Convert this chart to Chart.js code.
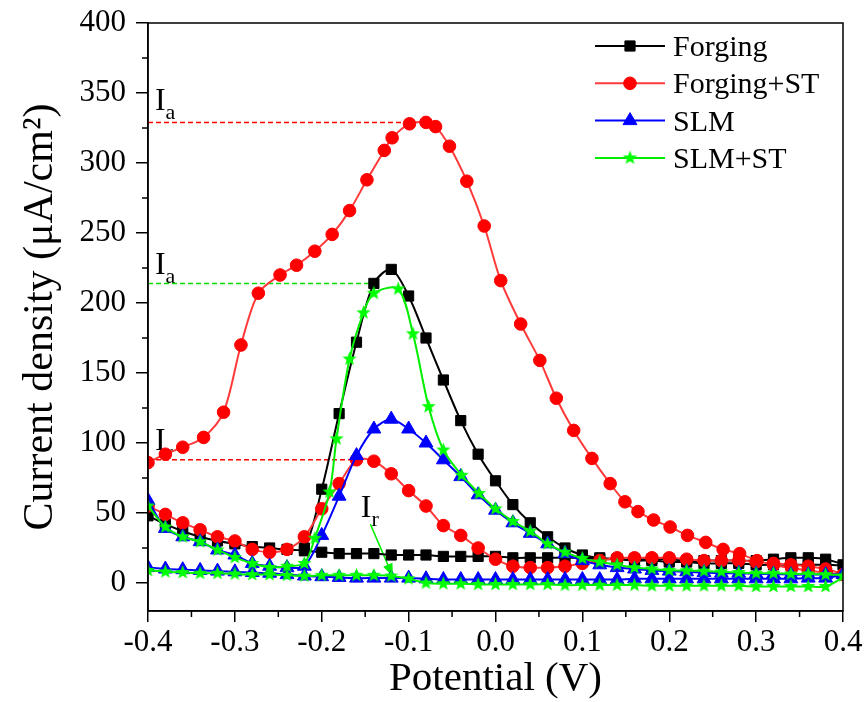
<!DOCTYPE html>
<html>
<head>
<meta charset="utf-8">
<script src="https://cdn.jsdelivr.net/npm/chart.js@4.4.1/dist/chart.umd.min.js"></script>
<style>
  html, body { margin: 0; padding: 0; background: #fff; }
  #box { width: 867px; height: 702px; }
</style>
</head>
<body>
<div id="box"><canvas id="cv" width="867" height="702"></canvas></div>
<script>
// values: potential (V) / current density (uA/cm2)
// each sample has a forward scan and a reverse scan
const forgingFwdV = [-0.40, -0.38, -0.36, -0.34, -0.32, -0.30, -0.28, -0.26, -0.24, -0.22, -0.20, -0.18, -0.16, -0.14, -0.12, -0.10, -0.08, -0.06, -0.04, -0.02, 0.00, 0.02, 0.04, 0.06, 0.08, 0.10, 0.12, 0.14, 0.16, 0.18, 0.20, 0.22, 0.24, 0.26, 0.28, 0.30, 0.32, 0.34, 0.36, 0.38, 0.40];
const forgingFwdI = [48, 42, 37, 33, 30, 28, 26, 25, 24, 25, 67, 121, 172, 214, 224, 205, 175, 145, 116, 92, 73, 56, 43, 33, 25, 20, 18, 17, 16, 16, 15, 15, 14, 14, 14, 13, 13, 13, 13, 13, 13];
const forgingRevV = [0.38, 0.36, 0.34, 0.32, 0.30, 0.28, 0.26, 0.24, 0.22, 0.20, 0.18, 0.16, 0.14, 0.12, 0.10, 0.08, 0.06, 0.04, 0.02, 0.00, -0.02, -0.04, -0.06, -0.08, -0.10, -0.12, -0.14, -0.16, -0.18, -0.20, -0.22];
const forgingRevI = [17, 18, 18, 17, 16, 16, 16, 16, 16, 17, 17, 17, 17, 17, 18, 18, 18, 18, 18, 19, 19, 19, 19, 20, 20, 20, 21, 21, 21, 22, 23];

const forgingStFwdV = [-0.40, -0.38, -0.36, -0.336, -0.313, -0.293, -0.273, -0.248, -0.229, -0.208, -0.188, -0.168, -0.148, -0.128, -0.119, -0.099, -0.080, -0.069, -0.053, -0.033, -0.013, 0.006, 0.029, 0.051, 0.070, 0.090, 0.111, 0.132, 0.149, 0.164, 0.182, 0.201, 0.221, 0.242, 0.262, 0.281, 0.301, 0.320, 0.341, 0.360, 0.381, 0.400];
const forgingStFwdI = [86, 92, 97, 104, 122, 170, 207, 220, 227, 237, 249, 266, 288, 309, 318, 328, 329, 326, 312, 287, 255, 216, 185, 159, 132, 109, 89, 71, 58, 51, 45, 40, 34, 29, 24, 21, 16, 13, 10.5, 9, 7, 6];
const forgingStRevV = [0.38, 0.36, 0.34, 0.32, 0.30, 0.28, 0.26, 0.24, 0.22, 0.20, 0.18, 0.16, 0.14, 0.12, 0.10, 0.08, 0.06, 0.04, 0.02, 0.00, -0.02, -0.04, -0.06, -0.08, -0.10, -0.12, -0.14, -0.16, -0.18, -0.20, -0.22, -0.24, -0.26, -0.28, -0.30, -0.32, -0.34, -0.36, -0.38, -0.40];
const forgingStRevI = [10, 12, 13, 14, 15, 16, 16, 16, 17, 18, 18, 18, 18, 16, 14, 12, 11, 11, 12, 17, 25, 34, 41, 55, 66, 78, 87, 88, 71, 53, 33, 24, 22, 24, 30, 33, 38, 43, 49, 55];

const slmFwdV = [-0.40, -0.38, -0.36, -0.34, -0.32, -0.30, -0.28, -0.26, -0.24, -0.22, -0.20, -0.18, -0.16, -0.14, -0.12, -0.10, -0.08, -0.06, -0.04, -0.02, 0.00, 0.02, 0.04, 0.06, 0.08, 0.10, 0.12, 0.14, 0.16, 0.18, 0.20, 0.22, 0.24, 0.26, 0.28, 0.30, 0.32, 0.34, 0.36, 0.38, 0.40];
const slmFwdI = [59, 39, 33, 29.5, 23.6, 20, 14, 12, 11, 12, 34, 62, 91, 110, 117, 110, 100, 88, 76, 63, 52, 43, 35.5, 28, 21, 16, 13, 11, 10, 9, 8.5, 8, 7.5, 7, 7, 6.5, 6.5, 6, 6, 6, 6];
const slmRevV = [0.38, 0.36, 0.34, 0.32, 0.30, 0.28, 0.26, 0.24, 0.22, 0.20, 0.18, 0.16, 0.14, 0.12, 0.10, 0.08, 0.06, 0.04, 0.02, 0.00, -0.02, -0.04, -0.06, -0.08, -0.10, -0.12, -0.14, -0.16, -0.18, -0.20, -0.22, -0.24, -0.26, -0.28, -0.30, -0.32, -0.34, -0.36, -0.38, -0.40];
const slmRevI = [3.5, 3.5, 3, 3, 3, 3, 3, 3, 3, 3, 3, 3, 2.5, 2.5, 2.5, 2.5, 2.5, 2.5, 2.5, 2.5, 2.5, 2.5, 2.5, 3, 3.5, 3.5, 3.5, 3.5, 4, 4.5, 5, 6, 7, 7.5, 8, 8.5, 9, 9.5, 10, 11];

const slmStFwdV = [-0.40, -0.38, -0.36, -0.34, -0.32, -0.30, -0.28, -0.26, -0.24, -0.22, -0.208, -0.191, -0.183, -0.168, -0.152, -0.140, -0.112, -0.095, -0.077, -0.060, -0.039, -0.019, 0.00, 0.02, 0.04, 0.06, 0.08, 0.10, 0.12, 0.14, 0.16, 0.18, 0.20, 0.22, 0.24, 0.26, 0.28, 0.30, 0.32, 0.34, 0.36, 0.38, 0.40];
const slmStFwdI = [55, 40, 33, 29.5, 23.6, 18.3, 14, 11.2, 12, 14, 32, 65, 103, 160, 193, 207, 210, 178, 126, 95, 77, 64, 53, 44, 37, 28, 22, 17.6, 15, 13, 11, 10, 9, 8.8, 8.5, 8, 7.5, 7, 7, 6.5, 6.5, 6, 5];
const slmStRevV = [0.38, 0.36, 0.34, 0.32, 0.30, 0.28, 0.26, 0.24, 0.22, 0.20, 0.18, 0.16, 0.14, 0.12, 0.10, 0.08, 0.06, 0.04, 0.02, 0.00, -0.02, -0.04, -0.06, -0.08, -0.10, -0.12, -0.14, -0.16, -0.18, -0.20, -0.22, -0.24, -0.26, -0.28, -0.30, -0.32, -0.34, -0.36, -0.38, -0.40];
const slmStRevI = [-2.5, -2.5, -2.5, -2.5, -2.5, -2, -2, -2, -2, -2, -2, -1.5, -1.5, -1.5, -1.5, -1.5, -1, -1, -1, -1, -1, -0.5, -0.5, 0, 3, 5, 5.5, 5.5, 5.5, 5.5, 5, 5.5, 6, 6, 6.5, 7, 7, 7.5, 8, 9];

// peak current guide lines (Ia, Ir)
const iaForgingSt = 329, iaForgingStEnd = -0.102;
const iaSlmSt = 214, iaSlmStEnd = -0.144;
const irForgingSt = 88, irForgingStEnd = -0.16;

const xTicks = [-0.4, -0.3, -0.2, -0.1, 0.0, 0.1, 0.2, 0.3, 0.4];
const yTicks = [0, 50, 100, 150, 200, 250, 300, 350, 400];

const serif = '"Liberation Serif", "Times New Roman", serif';

function loop(fv, fi, rv, ri) {
  return fv.map((v, k) => ({ x: v, y: fi[k] })).concat(rv.map((v, k) => ({ x: v, y: ri[k] })));
}

// 5 point star marker for SLM+ST
function starImage(color, r) {
  const c = document.createElement('canvas');
  const s = Math.ceil(r * 2 + 2);
  c.width = s; c.height = s;
  const g = c.getContext('2d');
  g.beginPath();
  for (let k = 0; k < 10; k++) {
    const rr = k % 2 ? r * 0.42 : r;
    const a = -Math.PI / 2 + k * Math.PI / 5;
    g.lineTo(s / 2 + rr * Math.cos(a), s / 2 + rr * Math.sin(a));
  }
  g.closePath();
  g.fillStyle = color;
  g.fill();
  return c;
}
const star = starImage('#00ff00', 7.5);

const series = [
  { label: 'Forging', color: '#000000', line: '#000000', style: 'rect', r: 7.2, order: 4,
    data: loop(forgingFwdV, forgingFwdI, forgingRevV, forgingRevI) },
  { label: 'Forging+ST', color: '#ff0000', line: '#ff3a3a', style: 'circle', r: 6.3, order: 3,
    data: loop(forgingStFwdV, forgingStFwdI, forgingStRevV, forgingStRevI) },
  { label: 'SLM', color: '#0000ff', line: '#0000ff', style: 'triangle', r: 8, order: 2,
    data: loop(slmFwdV, slmFwdI, slmRevV, slmRevI) },
  { label: 'SLM+ST', color: '#00ff00', line: '#00ee00', style: star, r: 7.5, order: 1,
    data: loop(slmStFwdV, slmStFwdI, slmStRevV, slmStRevI) }
];

function guide(y, xEnd, color) {
  return {
    label: '_guide', data: [{ x: -0.4, y: y }, { x: xEnd, y: y }], showLine: true,
    borderColor: color, borderWidth: 1.5, borderDash: [5, 3], pointRadius: 0, order: 10
  };
}

const datasets = series.map(s => ({
  label: s.label, data: s.data, showLine: true, tension: 0.3,
  borderColor: s.line, borderWidth: 2,
  pointStyle: s.style, pointRadius: s.r, pointHoverRadius: s.r,
  pointBackgroundColor: s.color, pointBorderColor: s.color, pointBorderWidth: 1,
  order: s.order
})).concat([
  guide(iaForgingSt, iaForgingStEnd, '#ff0000'),
  guide(iaSlmSt, iaSlmStEnd, '#00dd00'),
  guide(irForgingSt, irForgingStEnd, '#ff0000')
]);

// I_a / I_r labels in data units (baseline of the "I")
const peakLabels = [
  { v: -0.392, i: 338, sub: 'a' },
  { v: -0.392, i: 221, sub: 'a' },
  { v: -0.392, i: 95, sub: 'r' },
  { v: -0.155, i: 47, sub: 'r' }
];
const arrowFrom = { v: -0.144, i: 42 }, arrowTo = { v: -0.118, i: 4.5 };

const decor = {
  id: 'decor',
  beforeDatasetsDraw(chart) {
    const { ctx, scales: { x, y } } = chart;
    ctx.save();
    ctx.fillStyle = '#000';
    ctx.textBaseline = 'alphabetic';
    peakLabels.forEach(l => {
      const px = x.getPixelForValue(l.v), py = y.getPixelForValue(l.i);
      ctx.font = '32px ' + serif;
      ctx.fillText('I', px, py);
      const w = ctx.measureText('I').width;
      ctx.font = '22px ' + serif;
      ctx.fillText(l.sub, px + w, py + 9);
    });
    // arrow to the reactivation peak of SLM+ST
    const x0 = x.getPixelForValue(arrowFrom.v), y0 = y.getPixelForValue(arrowFrom.i);
    const x1 = x.getPixelForValue(arrowTo.v), y1 = y.getPixelForValue(arrowTo.i);
    const a = Math.atan2(y1 - y0, x1 - x0);
    ctx.strokeStyle = '#00ee00';
    ctx.fillStyle = '#00ee00';
    ctx.lineWidth = 1.6;
    ctx.beginPath();
    ctx.moveTo(x0, y0);
    ctx.lineTo(x1 - 10 * Math.cos(a), y1 - 10 * Math.sin(a));
    ctx.stroke();
    ctx.beginPath();
    ctx.moveTo(x1, y1);
    ctx.lineTo(x1 - 13 * Math.cos(a) + 5 * Math.sin(a), y1 - 13 * Math.sin(a) - 5 * Math.cos(a));
    ctx.lineTo(x1 - 13 * Math.cos(a) - 5 * Math.sin(a), y1 - 13 * Math.sin(a) + 5 * Math.cos(a));
    ctx.closePath();
    ctx.fill();
    ctx.restore();
  },
  afterDraw(chart) {
    const { ctx, chartArea: ca, scales: { x, y } } = chart;
    ctx.save();
    ctx.strokeStyle = '#000';
    ctx.lineWidth = 1.5;
    ctx.strokeRect(ca.left, ca.top, ca.right - ca.left, ca.bottom - ca.top);
    // minor ticks
    ctx.beginPath();
    for (let k = 0; k < xTicks.length - 1; k++) {
      const px = x.getPixelForValue((xTicks[k] + xTicks[k + 1]) / 2);
      ctx.moveTo(px, ca.bottom);
      ctx.lineTo(px, ca.bottom + 6);
    }
    for (let k = 0; k < yTicks.length - 1; k++) {
      const py = y.getPixelForValue((yTicks[k] + yTicks[k + 1]) / 2);
      ctx.moveTo(ca.left, py);
      ctx.lineTo(ca.left - 6, py);
    }
    ctx.stroke();
    // legend, top right inside the frame
    let ly = 46;
    series.forEach(s => {
      ctx.strokeStyle = s.line;
      ctx.lineWidth = 2;
      ctx.beginPath();
      ctx.moveTo(595, ly);
      ctx.lineTo(665, ly);
      ctx.stroke();
      ctx.fillStyle = s.color;
      ctx.strokeStyle = s.color;
      ctx.lineWidth = 1;
      Chart.helpers.drawPoint(ctx, { pointStyle: s.style, radius: s.r, rotation: 0, borderWidth: 1 }, 630, ly);
      ctx.fillStyle = '#000';
      ctx.font = '30px ' + serif;
      ctx.textBaseline = 'alphabetic';
      ctx.fillText(s.label, 673, ly + 10);
      ly += 37.3;
    });
    ctx.restore();
  }
};

new Chart(document.getElementById('cv'), {
  type: 'scatter',
  data: { datasets: datasets },
  options: {
    responsive: false,
    animation: false,
    layout: { padding: { top: 23, right: 24, left: 0, bottom: 0 } },
    plugins: { legend: { display: false }, tooltip: { enabled: false } },
    scales: {
      x: {
        type: 'linear', min: -0.4, max: 0.4,
        afterBuildTicks: s => { s.ticks = xTicks.map(v => ({ value: v })); },
        afterFit: s => { s.height = 91; s.paddingLeft = 0; s.paddingRight = 0; },
        ticks: { callback: v => v.toFixed(1), color: '#000', font: { family: serif, size: 31 }, padding: 2, maxRotation: 0 },
        grid: { drawOnChartArea: false, tickLength: 11, color: '#000', lineWidth: 1.5 },
        border: { color: '#000', width: 1.5 },
        title: { display: true, text: 'Potential (V)', color: '#000', font: { family: serif, size: 41, lineHeight: 1.1 }, padding: { top: 0, bottom: 0 } }
      },
      y: {
        type: 'linear', min: -20, max: 400,
        afterBuildTicks: s => { s.ticks = yTicks.map(v => ({ value: v })); },
        afterFit: s => { s.width = 148; s.paddingTop = 0; s.paddingBottom = 0; },
        ticks: { color: '#000', font: { family: serif, size: 31 }, padding: 10 },
        grid: { drawOnChartArea: false, tickLength: 12, color: '#000', lineWidth: 1.5 },
        border: { color: '#000', width: 1.5 },
        title: { display: true, text: 'Current density (μA/cm²)', color: '#000', font: { family: serif, size: 42, lineHeight: 1.1 }, padding: { top: 18, bottom: 0 } }
      }
    }
  },
  plugins: [decor]
});
</script>
</body>
</html>
